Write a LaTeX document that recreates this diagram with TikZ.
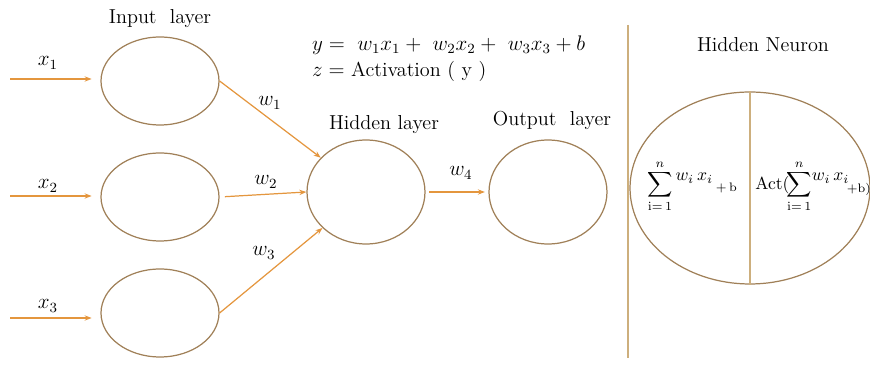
\documentclass[tikz,border=0pt]{standalone}
\usepackage{amsmath}
\usetikzlibrary{arrows.meta,shapes.geometric}

\definecolor{wirec}{RGB}{228,150,62}
\definecolor{ringc}{RGB}{160,128,88}
\definecolor{sepc}{RGB}{205,175,125}

\tikzset{
  unit/.style={draw=ringc,ellipse,line width=0.7pt,minimum width=2.36cm,minimum height=1.76cm,inner sep=0pt},
  wire/.style={draw=wirec,line width=0.7pt,-{Stealth[length=4pt,width=3pt]}},
  lbl/.style={font=\fontsize{11.5}{14}\selectfont},
  sumtxt/.style={font=\fontsize{10}{12}\selectfont,inner sep=0pt}
}

\begin{document}
\begin{tikzpicture}[x=0.02cm,y=-0.02cm]
  \useasboundingbox (0,0) rectangle (870,367);
  % input layer
  \node[lbl] (tin) at (160,19) {Input\ \ layer};
  \node[unit] (in1) at (160,81) {};
  \node[unit] (in2) at (160,197) {};
  \node[unit] (in3) at (160,313) {};
  \coordinate (s1) at (10,79);
  \coordinate (s2) at (10,196);
  \coordinate (s3) at (10,318);
  \draw[wire,shorten >=5pt] (s1) -- (s1 -| in1.west);
  \draw[wire,shorten >=5pt] (s2) -- (s2 -| in2.west);
  \draw[wire,shorten >=5pt] (s3) -- (s3 -| in3.west);
  \node[lbl] at (48,63) {$x_1$};
  \node[lbl] at (48,186) {$x_2$};
  \node[lbl] at (48,306) {$x_3$};
  % hidden and output layer
  \node[unit,minimum height=2.08cm] (hid) at (366,192) {};
  \node[unit,minimum height=2.08cm] (out) at (548,192) {};
  \node[lbl] (thid) at (384,125) {Hidden layer};
  \node[lbl] (tout) at (552,120) {Output\ \ layer};
  \draw[wire] (in1.east) -- (hid);
  \draw[wire,shorten <=3pt] (in2.east) -- (hid.west);
  \draw[wire] (in3.east) -- (hid);
  \draw[wire,shorten <=2pt,shorten >=2pt] (hid.east) -- (out.west);
  \node[lbl] at (270,103) {$w_1$};
  \node[lbl] at (266,182) {$w_2$};
  \node[lbl] at (264,253) {$w_3$};
  \node[lbl] at (461,173) {$w_4$};
  % equations
  \node[lbl,anchor=west] (eqy) at (306,45) {$y =\ w_1x_1 +\ w_2x_2 +\ w_3x_3 + b$};
  \node[lbl,anchor=west] (eqz) at (306,71) {$z =$\ Activation ( y )};
  % hidden neuron
  \draw[sepc,line width=0.8pt] (628,25) -- (628,358);
  \node[lbl] (tneu) at (763,45) {Hidden Neuron};
  \node[unit,minimum width=4.8cm,minimum height=3.84cm] (neu) at (750,188) {};
  \draw[sepc,line width=0.8pt] (neu.north) -- (neu.south);
  \node[sumtxt,anchor=west] (sumL) at (647,186) {$\displaystyle\sum_{\mathrm{i=}\,1}^{n}\raisebox{5pt}{$w_i\,x_i$}\,{}_{+\,\mathrm{b}}$};
  \node[sumtxt,anchor=west] (sumR) at (755,186) {Act($\!\displaystyle\sum_{\mathrm{i=}\,1}^{n}\!\raisebox{5pt}{$w_i\,x_{i}$}{}_{\!+\mathrm{b})}$};
\end{tikzpicture}
\end{document}
